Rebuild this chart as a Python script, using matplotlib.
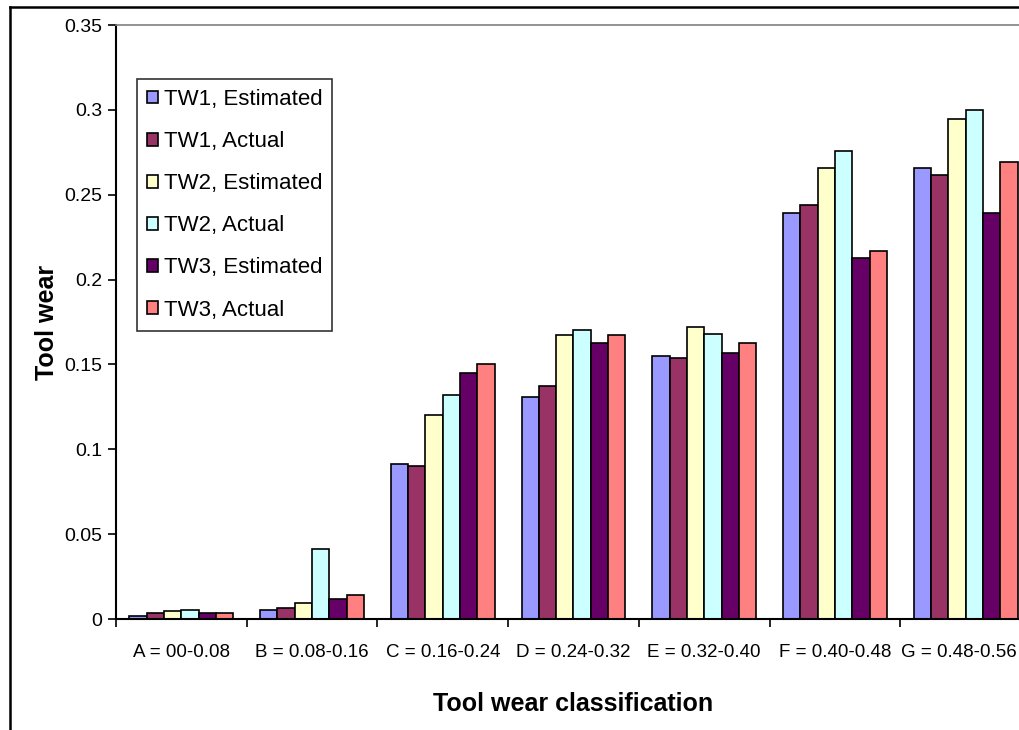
import numpy as np
import matplotlib
matplotlib.use('Agg')
import matplotlib.pyplot as plt
import matplotlib.transforms as mtransforms
from matplotlib.lines import Line2D

plt.rcParams['font.family'] = ['Liberation Sans', 'DejaVu Sans']

# Tool wear per class
categories = ['A = 00-0.08', 'B = 0.08-0.16', 'C = 0.16-0.24', 'D = 0.24-0.32',
              'E = 0.32-0.40', 'F = 0.40-0.48', 'G = 0.48-0.56']
series_names = ['TW1, Estimated', 'TW1, Actual', 'TW2, Estimated',
                'TW2, Actual', 'TW3, Estimated', 'TW3, Actual']
tw1_est = [0.002, 0.0055, 0.0915, 0.131, 0.155, 0.239, 0.266]
tw1_act = [0.0033, 0.0067, 0.090, 0.137, 0.154, 0.244, 0.2615]
tw2_est = [0.0045, 0.0092, 0.120, 0.1675, 0.172, 0.266, 0.2945]
tw2_act = [0.0055, 0.041, 0.132, 0.1705, 0.168, 0.2755, 0.300]
tw3_est = [0.0033, 0.0115, 0.145, 0.1625, 0.1565, 0.213, 0.239]
tw3_act = [0.0033, 0.014, 0.150, 0.1675, 0.1625, 0.217, 0.2695]
colors = ['#9999FF', '#993366', '#FFFFCC', '#CCFFFF', '#660066', '#FF8080']
y_ticks = [0, 0.05, 0.1, 0.15, 0.2, 0.25, 0.3, 0.35]
y_labels = ['0', '0.05', '0.1', '0.15', '0.2', '0.25', '0.3', '0.35']

series = [tw1_est, tw1_act, tw2_est, tw2_act, tw3_est, tw3_act]

fig = plt.figure(figsize=(10.2, 7.3), dpi=100)
# axes runs a little past the right edge, like the cropped original
ax = fig.add_axes([116 / 1020, 111 / 730, 915 / 1020, 594 / 730])

x = np.arange(len(categories))
w = 0.1325
for i, (vals, name) in enumerate(zip(series, series_names)):
    ax.bar(x + (i - 2.5) * w, vals, width=w, color=colors[i],
           edgecolor='black', linewidth=1.2, label=name)

ax.set_xlim(-0.5, len(categories) - 0.5)
ax.set_ylim(0, 0.35)
ax.set_yticks(y_ticks)
ax.set_yticklabels(y_labels, fontsize=14)

# ticks at group boundaries, labels centred under groups
ax.set_xticks(np.arange(len(categories) + 1) - 0.5)
ax.set_xticklabels([])
ax.set_xticks(x, minor=True)
ax.set_xticklabels(categories, minor=True, fontsize=13.5)
ax.tick_params(axis='x', which='minor', length=0, pad=18)
ax.tick_params(axis='x', which='major', length=6, width=1.2, direction='out')
ax.tick_params(axis='y', length=6, width=1.2, direction='out', pad=4)

# last label squeezed in against the right edge
last = ax.get_xticklabels(minor=True)[-1]
last.set_transform(last.get_transform() +
                   mtransforms.ScaledTranslation(-7 / 100, 0, fig.dpi_scale_trans))

ax.spines['left'].set_linewidth(1.5)
ax.spines['bottom'].set_linewidth(1.5)
ax.spines['top'].set_color('#808080')
ax.spines['top'].set_linewidth(1.2)
ax.spines['right'].set_visible(False)

ax.set_xlabel('Tool wear classification', fontsize=18, fontweight='bold', labelpad=22)
ax.set_ylabel('Tool wear', fontsize=18, fontweight='bold', labelpad=4)

leg = ax.legend(loc='upper left', bbox_to_anchor=(0.023, 0.909), borderaxespad=0,
                fontsize=16, frameon=True, fancybox=False, handlelength=0.5,
                handleheight=0.5, handletextpad=0.25, labelspacing=0.95,
                borderpad=0.45)
leg.get_frame().set_edgecolor('black')
leg.get_frame().set_linewidth(1.2)

# outer chart border (cropped on right and bottom)
fig.add_artist(Line2D([10 / 1020, 10 / 1020], [0, 1 - 7 / 730], color='black',
                      linewidth=1.8, transform=fig.transFigure))
fig.add_artist(Line2D([10 / 1020, 1], [1 - 7 / 730, 1 - 7 / 730], color='black',
                      linewidth=1.8, transform=fig.transFigure))

fig.savefig('out.png', dpi=100)
